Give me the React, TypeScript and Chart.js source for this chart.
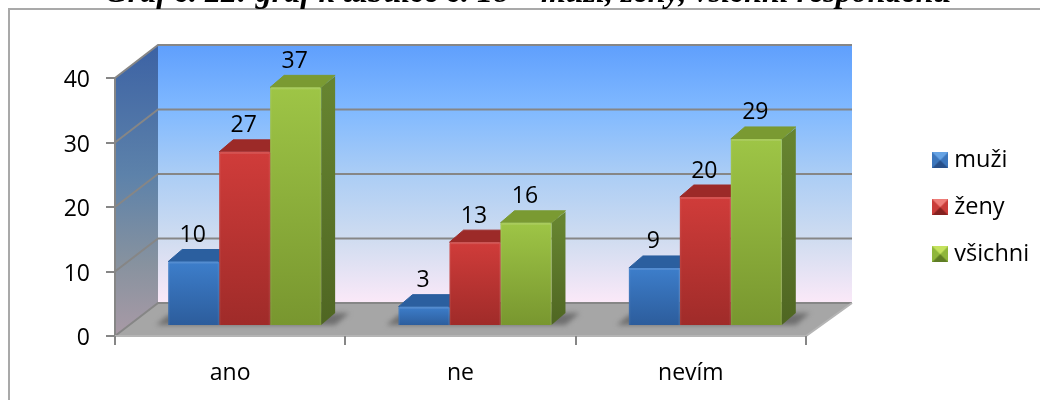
import React, { useEffect, useRef } from "react";
import { Chart, registerables } from "chart.js";

Chart.register(...registerables);

const categories = ["ano", "ne", "nevím"];
const seriesNames = ["muži", "ženy", "všichni"];
const muzi = [10, 3, 9];
const zeny = [27, 13, 20];
const vsichni = [37, 16, 29];
const yTicks = [0, 10, 20, 30, 40];
const titleText = "Graf č. 22: graf k tabulce č. 18 – muži, ženy, všichni respondenti";

const FONT = "'Open Sans'";
const FONT_SIZE = 23;
const GRID = "#868686";
// [front top, front bottom, top face, side top, side bottom, swatch top, swatch mid, swatch bottom]
const palettes = [
  ["#3d7ecb", "#2c5c9b", "#2b5f9f", "#25528a", "#1f4678", "#66a3e4", "#3c76bc", "#28508a"],
  ["#d03c3a", "#9f2b29", "#9c2a28", "#85231f", "#6e1d1a", "#ee7d78", "#c93c39", "#84211f"],
  ["#9ec546", "#78962f", "#7a9a32", "#668430", "#4f6622", "#c4e25e", "#8fb63c", "#5f7d25"],
];
const DEPTH_X = 43; // wall depth
const DEPTH_Y = 33;
const BAR_DX = 14.5; // bars stand in the middle of the floor
const BAR_DY = -10;
const SIDE_X = 14; // bar depth
const SIDE_Y = 12;

function swatch(p: string[]) {
  const c = document.createElement("canvas");
  c.width = 16;
  c.height = 16;
  const g = c.getContext("2d")!;
  g.fillStyle = p[6];
  g.fillRect(0, 0, 16, 16);
  g.fillStyle = p[5];
  g.beginPath();
  g.moveTo(0, 0);
  g.lineTo(16, 0);
  g.lineTo(8, 8);
  g.closePath();
  g.fill();
  g.fillStyle = p[7];
  g.beginPath();
  g.moveTo(0, 16);
  g.lineTo(16, 16);
  g.lineTo(8, 8);
  g.closePath();
  g.fill();
  return c;
}

function poly(ctx: CanvasRenderingContext2D, pts: number[][]) {
  ctx.beginPath();
  pts.forEach(([x, y], i) => (i ? ctx.lineTo(x, y) : ctx.moveTo(x, y)));
  ctx.closePath();
}

const scenePlugin = {
  id: "scene",
  beforeLayout(chart: any) {
    const l = chart.legend;
    if (l && !l.__wrapped) {
      const fit = l.fit;
      l.fit = function () {
        fit.call(this);
        this.width = 234;
      };
      l.__wrapped = true;
    }
  },
  afterLayout(chart: any) {
    const l = chart.legend;
    l.left = 914.5; l.right = 1040; l.top = 125; l.bottom = 300;
    const t = chart.titleBlock;
    t.left = 16; t.right = 1040; t.top = -22; t.bottom = 10;
  },
  beforeDraw(chart: any) {
    const { ctx, chartArea: a, scales } = chart;
    const y = scales.y;
    const bx0 = a.left + DEPTH_X;
    const bx1 = a.right + DEPTH_X + 3;
    const by0 = y.getPixelForValue(40) - DEPTH_Y;
    const by1 = y.getPixelForValue(0) - DEPTH_Y;
    ctx.save();
    ctx.fillStyle = "#fff";
    ctx.fillRect(0, 0, 1040, 400);
    // outer frame
    ctx.strokeStyle = "#a9a9a9";
    ctx.lineWidth = 2;
    ctx.beginPath();
    ctx.moveTo(9, 400);
    ctx.lineTo(9, 9);
    ctx.lineTo(1040, 9);
    ctx.stroke();
    // back wall
    const wall = ctx.createLinearGradient(0, by0, 0, by1);
    wall.addColorStop(0, "#5f9ffd");
    wall.addColorStop(0.25, "#80b9ff");
    wall.addColorStop(0.5, "#abcdf5");
    wall.addColorStop(0.75, "#cfdcf0");
    wall.addColorStop(1, "#fbe9f8");
    ctx.fillStyle = wall;
    ctx.fillRect(bx0, by0, bx1 - bx0, by1 - by0);
    // left wall
    const side = ctx.createLinearGradient(0, by0, 0, y.getPixelForValue(0));
    side.addColorStop(0, "#3c62a4");
    side.addColorStop(0.45, "#5d82aa");
    side.addColorStop(0.75, "#87929f");
    side.addColorStop(1, "#a99aa6");
    ctx.fillStyle = side;
    poly(ctx, [[a.left, a.top], [bx0, by0], [bx0, by1], [a.left, a.bottom]]);
    ctx.fill();
    // floor
    ctx.fillStyle = "#a6a6a6";
    poly(ctx, [[a.left, a.bottom], [a.right, a.bottom], [bx1, by1], [bx0, by1]]);
    ctx.fill();
    // grid lines on the walls
    ctx.strokeStyle = GRID;
    ctx.lineWidth = 2;
    yTicks.forEach((v) => {
      const py = y.getPixelForValue(v);
      ctx.beginPath();
      ctx.moveTo(a.left, py);
      ctx.lineTo(bx0, py - DEPTH_Y);
      ctx.lineTo(bx1, py - DEPTH_Y);
      ctx.stroke();
    });
    ctx.beginPath();
    ctx.moveTo(a.left, a.top);
    ctx.lineTo(a.left, a.bottom);
    ctx.stroke();
    ctx.strokeStyle = "#b4b4b4";
    ctx.beginPath();
    ctx.moveTo(a.left, a.bottom);
    ctx.lineTo(a.right, a.bottom);
    ctx.lineTo(bx1, by1);
    ctx.stroke();
    ctx.restore();
  },
  beforeDatasetsDraw(chart: any) {
    const { ctx } = chart;
    ctx.save();
    ctx.translate(BAR_DX, BAR_DY);
    const metas = chart.getSortedVisibleDatasetMetas();
    // floor shadows
    categories.forEach((_, i) => {
      const first = metas[0].data[i];
      const last = metas[metas.length - 1].data[i];
      const l = first.x - first.width / 2;
      const r = last.x + last.width / 2;
      const b = first.base;
      ctx.save();
      ctx.filter = "blur(2.5px)";
      ctx.fillStyle = "#6f6f6f";
      poly(ctx, [[l - 12, b], [l, b - 10], [r + 28, b - 12], [r + 14, b]]);
      ctx.fill();
      ctx.restore();
    });
    // side and top faces
    metas.forEach((meta: any, d: number) => {
      const p = palettes[d];
      meta.data.forEach((bar: any) => {
        const l = bar.x - bar.width / 2;
        const r = bar.x + bar.width / 2;
        const t = bar.y;
        const b = bar.base;
        const g = ctx.createLinearGradient(0, t, 0, b);
        g.addColorStop(0, p[3]);
        g.addColorStop(1, p[4]);
        ctx.fillStyle = g;
        poly(ctx, [[r, t], [r + SIDE_X, t - SIDE_Y + 1], [r + SIDE_X, b - SIDE_Y], [r, b]]);
        ctx.fill();
        ctx.fillStyle = p[2];
        ctx.lineJoin = "round";
        ctx.lineWidth = 1;
        ctx.strokeStyle = p[2];
        poly(ctx, [[l, t], [l + SIDE_X, t - SIDE_Y], [r + SIDE_X, t - SIDE_Y], [r, t]]);
        ctx.fill();
        ctx.stroke();
      });
    });
  },
  afterDatasetsDraw(chart: any) {
    const { ctx } = chart;
    const metas = chart.getSortedVisibleDatasetMetas();
    // bevel highlights on the front faces
    metas.forEach((meta: any) => {
      meta.data.forEach((bar: any) => {
        const l = bar.x - bar.width / 2;
        const r = bar.x + bar.width / 2;
        ctx.fillStyle = "rgba(255,255,255,0.12)";
        ctx.fillRect(l + 1, bar.y, r - l - 2, 2);
        ctx.fillStyle = "rgba(255,255,255,0.06)";
        ctx.fillRect(l, bar.y + 1, 1.5, bar.base - bar.y - 1);
        ctx.fillRect(r - 1.5, bar.y + 1, 1.5, bar.base - bar.y - 1);
      });
    });
    ctx.restore();
    // value labels
    ctx.save();
    ctx.font = `${FONT_SIZE}px ${FONT}`;
    ctx.fillStyle = "#000";
    ctx.textAlign = "center";
    ctx.textBaseline = "middle";
    metas.forEach((meta: any, d: number) => {
      meta.data.forEach((bar: any, i: number) => {
        const v = chart.data.datasets[d].data[i];
        ctx.fillText(String(v), bar.x + BAR_DX - 1, bar.y + BAR_DY - 26);
      });
    });
    ctx.restore();
  },
};

export default function App() {
  const ref = useRef<HTMLCanvasElement>(null);
  useEffect(() => {
    const frontFill = (d: number) => (c: any) => {
      const chart = c.chart;
      const y = chart.scales?.y;
      if (!y || c.raw === undefined) return palettes[d][0];
      const t = y.getPixelForValue(c.raw);
      const b = y.getPixelForValue(0);
      const g = chart.ctx.createLinearGradient(0, t, 0, b);
      g.addColorStop(0, palettes[d][0]);
      g.addColorStop(1, palettes[d][1]);
      return g;
    };
    const series = [muzi, zeny, vsichni];
    const chart = new Chart(ref.current!, {
      type: "bar",
      data: {
        labels: categories,
        datasets: series.map((data, d) => ({
          label: seriesNames[d],
          data,
          backgroundColor: frontFill(d),
          categoryPercentage: 0.664,
          barPercentage: 1,
          borderRadius: 1.5,
          borderSkipped: "bottom",
          clip: false,
        })) as any,
      },
      options: {
        responsive: false,
        animation: false,
        layout: { padding: { top: 46, left: 0, right: 0, bottom: 0 } },
        plugins: {
          tooltip: { enabled: false },
          title: {
            display: true,
            text: titleText,
            color: "#000",
            padding: 0,
            font: { family: "'Liberation Serif'", size: 32, style: "italic", weight: "bold", lineHeight: 1 },
          },
          legend: {
            position: "right",
            align: "start",
            labels: {
              usePointStyle: true,
              boxWidth: 4.5,
              boxHeight: 16,
              padding: 23.5,
              color: "#000",
              font: { family: FONT, size: 23.5, lineHeight: 1 },
              generateLabels: () =>
                seriesNames.map((text, i) => ({
                  text,
                  datasetIndex: i,
                  pointStyle: swatch(palettes[i]),
                  fontColor: "#000",
                  lineWidth: 0,
                })) as any,
            },
          },
        },
        scales: {
          x: {
            afterFit: (s: any) => { s.height = 64; },
            grid: { drawOnChartArea: false, drawTicks: true, tickLength: 9, color: GRID, lineWidth: 2 },
            border: { display: false },
            ticks: { color: "#000", padding: 15, font: { family: FONT, size: FONT_SIZE } },
          },
          y: {
            min: 0,
            max: 40,
            afterFit: (s: any) => { s.width = 115; },
            grid: { drawOnChartArea: false, drawTicks: true, tickLength: 9, color: GRID, lineWidth: 2 },
            border: { display: false },
            ticks: {
              stepSize: 10,
              color: "#000",
              padding: 16,
              labelOffset: 2.5,
              font: { family: FONT, size: FONT_SIZE },
            },
          },
        },
      },
      plugins: [scenePlugin],
    } as any);
    return () => chart.destroy();
  }, []);
  return (
    <div style={{ position: "fixed", left: 0, top: 0, width: 1040, height: 400 }}>
      <canvas ref={ref} width={1040} height={400} style={{ display: "block" }} />
    </div>
  );
}
